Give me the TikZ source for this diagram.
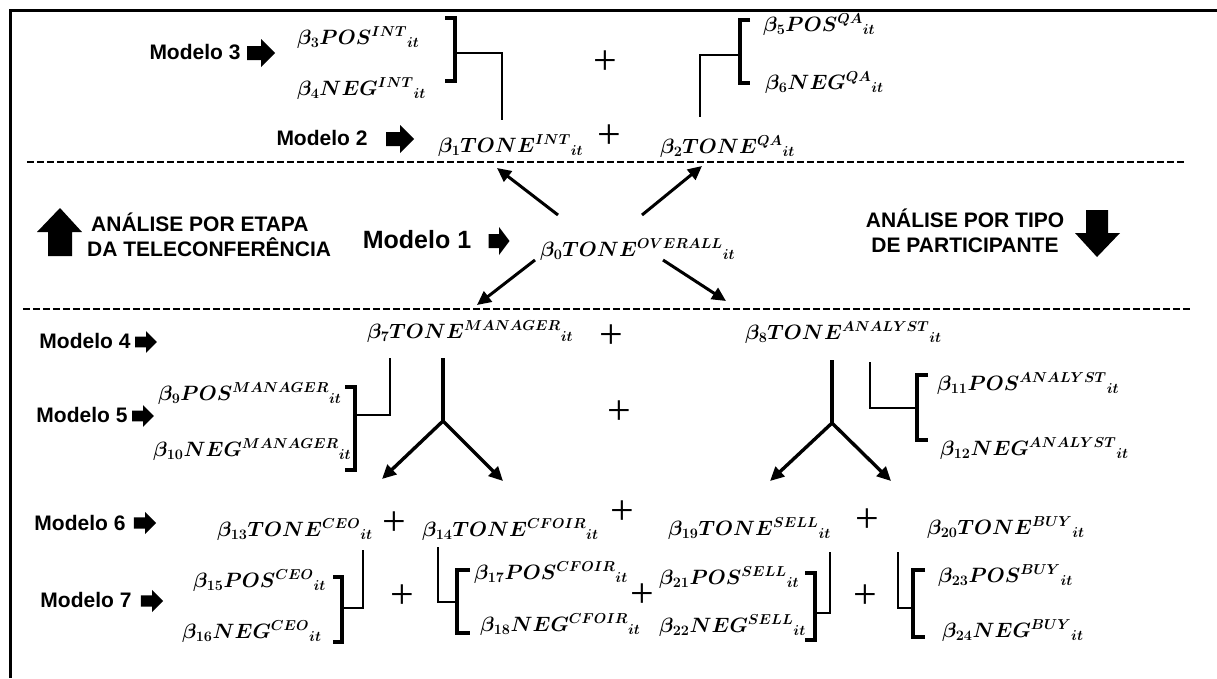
\documentclass[tikz,border=0pt]{standalone}
\usepackage{fontspec}
\usetikzlibrary{arrows.meta}
\newfontfamily\arialfont{Liberation Sans}
\newfontfamily\plusfont{Liberation Serif}
\begin{document}
\begin{tikzpicture}[x=1pt,y=-1pt,
  form/.style={inner sep=0pt, anchor=base west, font=\fontsize{21}{25}\selectfont\boldmath},
  lbl/.style={inner sep=0pt, anchor=center, font=\arialfont\bfseries\fontsize{21}{24}\selectfont},
  biglbl/.style={inner sep=0pt, anchor=center, font=\arialfont\bfseries\fontsize{25}{28}\selectfont},
  sect/.style={inner sep=0pt, align=center, font=\arialfont\bfseries\fontsize{21}{25}\selectfont},
  plus/.style={inner sep=0pt, anchor=center, font=\plusfont\fontsize{42}{42}\selectfont},
  sepline/.style={line width=2.4pt, dash pattern=on 7pt off 3pt},
  framel/.style={line width=3pt},
  brk/.style={line width=3.2pt},
  thin/.style={line width=1.8pt},
  ythick/.style={line width=3.4pt},
  arr/.style={line width=3pt, -{Triangle[length=14pt,width=13pt]}},
  blk/.pic={\fill (-14,-7)--(0,-7)--(0,-14)--(14,0)--(0,14)--(0,7)--(-14,7)--cycle;},
]
\useasboundingbox (0,0) rectangle (1217,678);
% frame
\draw[framel] (10,678) -- (10,10) -- (1217,10);
% dashed separators
\coordinate (d1a) at (27,162); \coordinate (d1b) at (1184,162);
\coordinate (d2a) at (23,309); \coordinate (d2b) at (1190,309);
\draw[sepline] (d1a) -- (d1b);
\draw[sepline] (d2a) -- (d2b);

% ---------- Model labels ----------
\node[lbl] (m3) at (195,52) {Modelo 3};
\pic at (261,53) {blk};
\node[lbl] (m2) at (322,138) {Modelo 2};
\pic at (400,139) {blk};
\node[biglbl] (m1) at (417,240) {Modelo 1};
\pic[xscale=0.75] at (499,241) {blk};
\node[lbl] (m4) at (85,341) {Modelo 4};
\pic[scale=0.78] at (146,342) {blk};
\node[lbl] (m5) at (82,415) {Modelo 5};
\pic[scale=0.78] at (143,416) {blk};
\node[lbl] (m6) at (80,523) {Modelo 6};
\pic[scale=0.8] at (145,523) {blk};
\node[lbl] (m7) at (86,600) {Modelo 7};
\pic[scale=0.8] at (152,601) {blk};

% ---------- section labels ----------
\node[sect, anchor=west, align=left] (s1) at (87,235) {\hspace*{4pt}ANÁLISE POR ETAPA\\DA TELECONFERÊNCIA};
\node[sect, anchor=center] (s2) at (965,231) {ANÁLISE POR TIPO\\DE PARTICIPANTE};
\fill (48,256) -- (72,256) -- (72,232) -- (82,232) -- (60,208) -- (37,232) -- (48,232) -- cycle;
\fill (1086,210) -- (1108,210) -- (1108,233) -- (1120,233) -- (1097,257) -- (1075,233) -- (1086,233) -- cycle;

% ---------- formulas ----------
\node[form] (b3) at (297,44) {$\beta_{3}POS^{INT}{}_{it}$};
\node[form] (b4) at (297,95) {$\beta_{4}NEG^{INT}{}_{it}$};
\node[form] (b5) at (763,31) {$\beta_{5}POS^{QA}{}_{it}$};
\node[form] (b6) at (765,89) {$\beta_{6}NEG^{QA}{}_{it}$};
\node[form] (b1) at (438,152) {$\beta_{1}TONE^{INT}{}_{it}$};
\node[form] (b2) at (660,153) {$\beta_{2}TONE^{QA}{}_{it}$};
\node[form] (b0) at (540,256) {$\beta_{0}TONE^{OVERALL}{}_{it}$};
\node[form] (b7) at (367,338) {$\beta_{7}TONE^{MANAGER}{}_{it}$};
\node[form] (b8) at (745,339) {$\beta_{8}TONE^{ANALYST}{}_{it}$};
\node[form] (b9) at (158,400) {$\beta_{9}POS^{MANAGER}{}_{it}$};
\node[form] (b10) at (153,456) {$\beta_{10}NEG^{MANAGER}{}_{it}$};
\node[form] (b11) at (937,390) {$\beta_{11}POS^{ANALYST}{}_{it}$};
\node[form] (b12) at (940,455) {$\beta_{12}NEG^{ANALYST}{}_{it}$};
\node[form] (b13) at (217,536) {$\beta_{13}TONE^{CEO}{}_{it}$};
\node[form] (b14) at (422,536) {$\beta_{14}TONE^{CFOIR}{}_{it}$};
\node[form] (b19) at (668,535) {$\beta_{19}TONE^{SELL}{}_{it}$};
\node[form] (b20) at (927,534) {$\beta_{20}TONE^{BUY}{}_{it}$};
\node[form] (b15) at (193,587) {$\beta_{15}POS^{CEO}{}_{it}$};
\node[form] (b16) at (182,638) {$\beta_{16}NEG^{CEO}{}_{it}$};
\node[form] (b17) at (474,579) {$\beta_{17}POS^{CFOIR}{}_{it}$};
\node[form] (b18) at (480,631) {$\beta_{18}NEG^{CFOIR}{}_{it}$};
\node[form] (b21) at (659,584) {$\beta_{21}POS^{SELL}{}_{it}$};
\node[form] (b22) at (659,632) {$\beta_{22}NEG^{SELL}{}_{it}$};
\node[form] (b23) at (938,582) {$\beta_{23}POS^{BUY}{}_{it}$};
\node[form] (b24) at (942,637) {$\beta_{24}NEG^{BUY}{}_{it}$};

% ---------- plus signs ----------
\node[plus] (p1) at (605,63) {+};
\node[plus] (p2) at (609,137) {+};
\node[plus] (p3) at (611,337) {+};
\node[plus] (p4) at (619,413) {+};
\node[plus] (p5) at (394,524) {+};
\node[plus] (p6) at (622,513) {+};
\node[plus] (p7) at (867,521) {+};
\node[plus] (p8) at (402,597) {+};
\node[plus] (p9) at (642,596) {+};
\node[plus] (p10) at (865,597) {+};

% ---------- brackets and connectors, upper part ----------
\draw[brk] (445,18) -- (455,18) -- (455,81) -- (445,81);
\coordinate (ci1) at (502,120);
\draw[thin] (455,53) -- (502,53) -- (ci1);
\draw[brk] (750,20) -- (740,20) -- (740,83) -- (750,83);
\coordinate (cq1) at (700,117);
\draw[thin] (740,55) -- (700,55) -- (cq1);

% ---------- arrows from beta0 ----------
\coordinate (o1) at (558,215); \coordinate (t1) at (497,168);
\coordinate (o2) at (642,215); \coordinate (t2) at (702,166);
\coordinate (o3) at (535,260); \coordinate (t3) at (477,305);
\coordinate (o4) at (663,260); \coordinate (t4) at (726,301);
\draw[arr] (o1) -- (t1);
\draw[arr] (o2) -- (t2);
\draw[arr] (o3) -- (t3);
\draw[arr] (o4) -- (t4);

% ---------- Y splits ----------
\coordinate (ym0) at (443,358); \coordinate (ym) at (443,421);
\coordinate (yml) at (382,479); \coordinate (ymr) at (503,481);
\draw[ythick] (ym0) -- (ym);
\draw[arr, line width=3.4pt] (ym) -- (yml);
\draw[arr, line width=3.4pt] (ym) -- (ymr);
\coordinate (ya0) at (832,360); \coordinate (ya) at (832,423);
\coordinate (yal) at (770,481); \coordinate (yar) at (891,481);
\draw[ythick] (ya0) -- (ya);
\draw[arr, line width=3.4pt] (ya) -- (yal);
\draw[arr, line width=3.4pt] (ya) -- (yar);

% ---------- manager / analyst brackets ----------
\draw[thin] (390,358) -- (390,415) -- (355,415);
\draw[brk] (345,387) -- (355,387) -- (355,470) -- (345,470);
\draw[thin] (870,362) -- (870,408) -- (917,408);
\draw[brk] (928,375) -- (917,375) -- (917,440) -- (928,440);

% ---------- row 7 brackets ----------
\draw[thin] (363,550) -- (363,608) -- (342,608);
\draw[brk] (333,577) -- (342,577) -- (342,642) -- (333,642);
\draw[thin] (438,547) -- (438,602) -- (457,602);
\draw[brk] (470,570) -- (457,570) -- (457,633) -- (470,633);
\draw[thin] (830,552) -- (830,613) -- (815,613);
\draw[brk] (805,573) -- (815,573) -- (815,640) -- (805,640);
\draw[thin] (898,552) -- (898,608) -- (913,608);
\draw[brk] (925,570) -- (913,570) -- (913,637) -- (925,637);
\end{tikzpicture}
\end{document}
